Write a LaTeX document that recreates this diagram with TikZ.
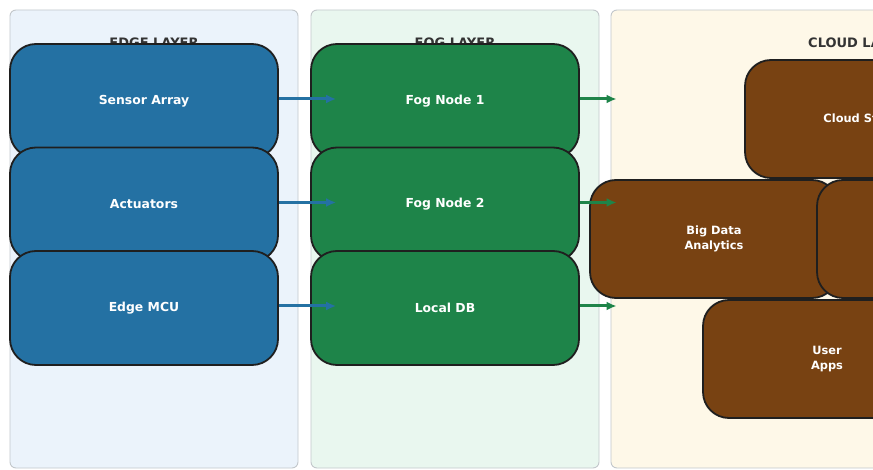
\documentclass[tikz,border=0pt]{standalone}
\usepackage{fontspec}
\setmainfont{DejaVu Sans}
\usepackage{tikz}
\usetikzlibrary{arrows.meta,positioning}
\definecolor{edgeblue}{HTML}{2471A3}
\definecolor{foggreen}{HTML}{1E8449}
\definecolor{cloudbrown}{HTML}{784212}
\definecolor{edgebg}{HTML}{EBF3FB}
\definecolor{fogbg}{HTML}{E9F7EF}
\definecolor{cloudbg}{HTML}{FEF8E8}
\definecolor{panelline}{HTML}{C2C7CB}
\definecolor{titlegray}{HTML}{333333}
\definecolor{boxline}{HTML}{1F1F1F}

\begin{document}
\begin{tikzpicture}[x=1pt, y=-1pt,
    panel/.style={draw=panelline, line width=0.9pt, rounded corners=6pt, inner sep=0pt},
    layertitle/.style={anchor=base, inner sep=0pt, text=titlegray, font=\bfseries\fontsize{13}{15}\selectfont},
    unit/.style={draw=boxline, line width=1.8pt, rounded corners=26pt, minimum width=268pt, minimum height=114pt,
        text=white, align=center, font=\bfseries\fontsize{12.4}{15}\selectfont},
    cloudunit/.style={unit, fill=cloudbrown, minimum width=248pt, minimum height=118pt,
        font=\bfseries\fontsize{11.4}{15}\selectfont},
    flow/.style={-{Latex[length=10pt,width=9pt]}, line width=3pt}]
    \useasboundingbox (0,0) rectangle (873,470);

    % Layer panels
    \node[panel, fill=edgebg, minimum width=288pt, minimum height=458pt] (edgepanel) at (154,239) {};
    \node[panel, fill=fogbg, minimum width=288pt, minimum height=458pt] (fogpanel) at (455,239) {};
    \node[panel, fill=cloudbg, minimum width=494pt, minimum height=458pt] (cloudpanel) at (858,239) {};

    % Layer titles
    \node[layertitle] (edgetitle) at (154,47.5) {EDGE LAYER};
    \node[layertitle] (fogtitle) at (455,47.5) {FOG LAYER};
    \node[layertitle, anchor=base west] (cloudtitle) at (808,47.5) {CLOUD LAYER};

    % Edge devices
    \node[unit, fill=edgeblue] (sensor) at (144,101) {Sensor Array};
    \node[unit, fill=edgeblue] (actuator) at (144,204.5) {Actuators};
    \node[unit, fill=edgeblue] (mcu) at (144,308) {Edge MCU};

    % Fog nodes
    \node[unit, fill=foggreen] (fog1) at (445,101) {Fog Node 1};
    \node[unit, fill=foggreen] (fog2) at (445,204.5) {Fog Node 2};
    \node[unit, fill=foggreen] (localdb) at (445,308) {Local DB};

    % Cloud services
    \node[cloudunit] (storage) at (869,119) {Cloud Storage};
    \node[cloudunit] (bigdata) at (714,239) {Big Data\\Analytics};
    \node[cloudunit] (cloudmid) at (941,239) {};
    \node[cloudunit] (userapps) at (827,359) {User\\Apps};

    % Uplinks
    \coordinate (cloudin) at ([xshift=6pt]cloudpanel.west);
    \draw[flow, edgeblue] ([yshift=2]sensor.east) -- ([xshift=26,yshift=2]fog1.west);
    \draw[flow, edgeblue] ([yshift=2]actuator.east) -- ([xshift=26,yshift=2]fog2.west);
    \draw[flow, edgeblue] ([yshift=2]mcu.east) -- ([xshift=26,yshift=2]localdb.west);
    \draw[flow, foggreen] ([yshift=2]fog1.east) -- ([yshift=2]fog1.east -| cloudin);
    \draw[flow, foggreen] ([yshift=2]fog2.east) -- ([yshift=2]fog2.east -| cloudin);
    \draw[flow, foggreen] ([yshift=2]localdb.east) -- ([yshift=2]localdb.east -| cloudin);
\end{tikzpicture}
\end{document}
